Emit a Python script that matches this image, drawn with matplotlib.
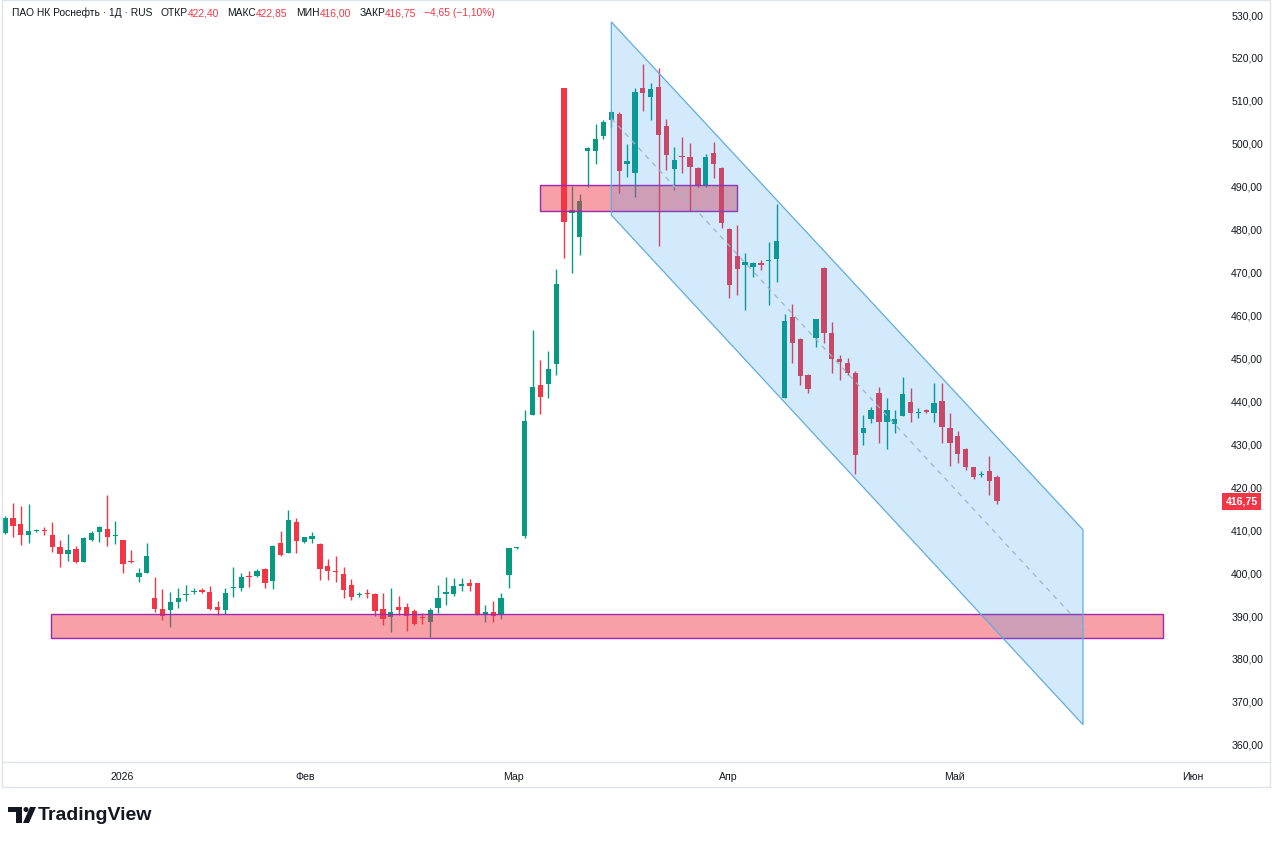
import matplotlib.pyplot as plt
import matplotlib.patches as mpatches
from matplotlib.lines import Line2D
import numpy as np

plt.rcParams['font.family'] = ['Liberation Sans', 'DejaVu Sans']

# daily OHLC, one value per trading session (index = candle number)
opens = [
    409.4, 412.8, 411.4, 408.9, 409.8, 410.0, 408.9, 406.0, 404.5, 405.6,
    402.5, 407.7, 409.5, 410.2, 408.7, 407.7, 402.9, 399.0, 400.1, 394.2,
    391.7, 391.4, 393.2, 395.0, 395.5, 395.9, 395.7, 392.2, 391.4, 396.6,
    396.5, 399.3, 399.4, 400.9, 398.2, 407.0, 404.8, 411.8, 407.2, 408.0,
    406.7, 401.7, 400.5, 399.8, 397.3, 394.8, 395.3, 395.2, 391.7, 389.7,
    392.2, 392.1, 391.2, 389.8, 388.7, 391.8, 395.2, 395.2, 396.9, 397.6,
    397.6, 390.5, 391.0, 390.3, 399.5, 405.8, 408.7, 436.8, 443.9, 444.1,
    448.8, 512.9, 484.0, 478.4, 498.3, 498.3, 501.9, 505.6, 507.0, 495.2,
    493.2, 512.9, 510.8, 513.3, 504.1, 494.1, 497.1, 496.9, 494.3, 490.2,
    497.8, 494.3, 480.2, 473.9, 471.8, 471.4, 472.2, 472.6, 473.1, 440.7,
    459.6, 454.5, 446.2, 454.7, 471.0, 455.9, 449.9, 448.9, 446.7, 432.6,
    435.8, 442.0, 435.1, 434.8, 436.5, 439.8, 437.3, 438.0, 437.2, 440.0,
    433.7, 432.0, 428.9, 424.7, 422.8, 423.8, 422.4]
closes = [
    412.9, 411.0, 408.9, 409.7, 410.0, 409.7, 406.0, 404.5, 405.4, 402.5,
    408.1, 409.4, 410.7, 408.4, 408.9, 402.1, 402.6, 400.1, 403.9, 391.7,
    390.1, 393.3, 394.2, 395.2, 395.8, 395.7, 391.7, 391.4, 395.3, 396.8,
    399.2, 399.1, 400.6, 397.6, 406.2, 404.2, 412.4, 407.4, 408.3, 408.7,
    400.9, 400.4, 400.3, 396.1, 394.4, 395.1, 395.1, 391.2, 389.2, 390.9,
    391.4, 389.9, 388.1, 389.5, 391.3, 394.2, 395.5, 397.0, 397.4, 396.9,
    390.4, 391.0, 389.9, 394.2, 405.8, 406.0, 435.5, 443.3, 441.1, 447.6,
    467.4, 481.7, 484.6, 486.7, 499.0, 501.2, 505.1, 507.4, 493.7, 496.0,
    512.0, 511.8, 512.8, 502.0, 497.4, 496.2, 496.9, 494.5, 490.2, 497.0,
    495.3, 481.5, 467.1, 470.8, 472.5, 472.2, 471.7, 472.9, 477.4, 458.8,
    453.5, 445.9, 442.8, 459.1, 456.0, 449.9, 449.1, 446.5, 427.5, 433.8,
    437.9, 435.1, 438.0, 435.9, 441.7, 437.2, 437.5, 437.5, 439.7, 434.0,
    430.4, 427.8, 424.7, 422.5, 422.9, 421.4, 416.75]
highs = [
    413.3, 416.4, 415.7, 416.1, 410.2, 410.7, 411.8, 407.6, 409.1, 406.2,
    408.5, 409.7, 411.0, 418.2, 412.2, 407.8, 405.4, 401.1, 407.1, 399.0,
    396.2, 395.5, 396.5, 397.2, 396.5, 396.5, 396.9, 393.4, 396.5, 401.4,
    400.1, 400.6, 401.0, 401.1, 406.6, 409.7, 414.7, 412.8, 408.5, 409.5,
    407.1, 403.3, 404.0, 401.4, 398.6, 395.5, 396.2, 395.3, 395.3, 396.5,
    394.7, 393.1, 391.6, 390.8, 391.8, 397.2, 399.2, 398.8, 398.8, 398.6,
    397.8, 392.6, 393.4, 395.3, 405.9, 406.1, 438.0, 456.7, 449.6, 451.7,
    470.9, 513.0, 490.2, 488.3, 499.2, 504.5, 505.5, 507.6, 507.5, 500.0,
    512.9, 518.6, 514.2, 517.6, 505.7, 499.2, 501.7, 500.1, 494.7, 497.6,
    500.5, 494.7, 480.3, 481.0, 474.6, 472.5, 473.0, 477.2, 486.0, 460.4,
    462.8, 454.7, 446.3, 459.3, 471.2, 458.6, 450.8, 450.0, 447.0, 436.9,
    438.8, 443.3, 440.7, 438.0, 445.6, 443.1, 438.4, 438.2, 444.4, 444.4,
    437.2, 433.2, 429.1, 424.8, 423.9, 427.3, 422.85]
lows = [
    409.0, 408.4, 406.6, 407.1, 409.6, 408.9, 405.0, 401.5, 402.9, 402.3,
    402.5, 407.5, 407.3, 406.4, 406.7, 400.1, 402.4, 397.9, 400.1, 391.0,
    389.0, 387.4, 391.8, 393.4, 395.2, 395.3, 391.4, 390.3, 390.4, 394.5,
    395.9, 396.7, 399.2, 396.5, 396.2, 403.9, 404.8, 404.8, 407.0, 407.0,
    398.4, 398.4, 398.0, 394.2, 393.7, 394.5, 394.3, 389.9, 387.9, 386.2,
    390.3, 386.6, 387.9, 388.2, 385.1, 390.6, 392.6, 394.7, 395.8, 395.8,
    390.3, 388.5, 388.5, 389.3, 396.5, 405.7, 408.1, 436.8, 437.0, 440.9,
    446.1, 473.4, 470.0, 474.2, 490.0, 495.4, 501.2, 504.0, 488.5, 492.3,
    487.5, 507.7, 505.5, 476.2, 493.9, 489.2, 493.1, 484.4, 490.0, 490.0,
    492.0, 480.3, 464.0, 464.8, 461.3, 468.9, 470.5, 462.5, 467.7, 440.7,
    448.9, 443.8, 441.9, 452.7, 453.7, 446.7, 445.0, 446.2, 423.1, 429.9,
    434.9, 430.4, 428.9, 432.7, 436.5, 435.1, 436.1, 437.2, 435.1, 430.2,
    425.0, 425.7, 424.0, 421.9, 422.5, 418.2, 416.0]

month_pos = [14.9, 38.1, 64.6, 91.9, 120.6, 150.9]
month_labels = ['2026', 'Фев', 'Мар', 'Апр', 'Май', 'Июн']
price_ticks = np.arange(360, 531, 10)
last_price = 416.75

# drawings: (x start, x end, price low, price high)
zone_top = (67.9, 93.0, 484.4, 490.4)
zone_bottom = (5.8, 147.0, 385.0, 390.4)
# channel corners: upper-left, upper-right, lower-right, lower-left
channel = [(77.0, 528.4), (136.9, 410.1), (136.9, 364.7), (77.0, 483.4)]

UP = '#089981'
DOWN = '#f23645'
DARK = '#131722'
W, H = 1280, 841


def fx(px):
    return px / W


def fy(py):
    return 1 - py / H


fig = plt.figure(figsize=(12.8, 8.41), dpi=100)
fig.patch.set_facecolor('white')
ax = fig.add_axes([fx(3), fy(762), fx(1217), 762 / H])

o = np.array(opens)
c = np.array(closes)
x = np.arange(len(o))
cols = np.where(c >= o, UP, DOWN)
body_lo = np.minimum(o, c)
body_h = np.maximum(np.abs(c - o), 0.25)

ax.vlines(x, lows, highs, colors=cols, linewidth=1.0, zorder=2)
ax.bar(x, body_h, bottom=body_lo, width=0.68, color=cols, linewidth=0, zorder=2)

# support / resistance zones
for x0, x1, p0, p1 in (zone_top, zone_bottom):
    ax.add_patch(mpatches.Rectangle((x0, p0), x1 - x0, p1 - p0,
                                    facecolor=DOWN, alpha=0.47, lw=0, zorder=3))
    ax.add_patch(mpatches.Rectangle((x0, p0), x1 - x0, p1 - p0,
                                    facecolor='none', edgecolor='#9c27b0',
                                    lw=1, zorder=3))

# descending channel
ax.add_patch(mpatches.Polygon(channel, closed=True, facecolor='#2196f3',
                              alpha=0.2, lw=0, zorder=4))
ax.add_patch(mpatches.Polygon(channel, closed=True, facecolor='none',
                              edgecolor='#62abe0', lw=0.9, zorder=4))
mid0 = (channel[0][1] + channel[3][1]) / 2
mid1 = (channel[1][1] + channel[2][1]) / 2
ax.plot([channel[0][0], channel[1][0]], [mid0, mid1], color='#9bb6cc',
        lw=0.9, ls=(0, (4, 4)), zorder=4)

ax.set_xlim(-0.25, 154.3)
ax.set_ylim(356.0, 533.5)
for s in ax.spines.values():
    s.set_visible(False)

ax.yaxis.tick_right()
ax.set_yticks(price_ticks)
ax.set_yticklabels([f'{v:.2f}'.replace('.', ',') for v in price_ticks])
ax.set_xticks(month_pos)
ax.set_xticklabels(month_labels)
ax.tick_params(axis='y', length=0, pad=8, labelsize=7.6, labelcolor=DARK)
ax.tick_params(axis='x', length=0, pad=7, labelsize=7.6, labelcolor=DARK)

ax.annotate(f'{last_price:.2f}'.replace('.', ','), xy=(1, last_price),
            xycoords=('axes fraction', 'data'), xytext=(4, 0),
            textcoords='offset points', ha='left', va='center',
            fontsize=7.6, color='white', fontweight='bold',
            bbox=dict(boxstyle='square,pad=0.32', fc=DOWN, ec='none'))

# chart frame
fig.add_artist(mpatches.Rectangle((fx(2), fy(787)), fx(1268), 787 / H,
                                  transform=fig.transFigure, fill=False,
                                  edgecolor='#e0e3eb', lw=1))
fig.add_artist(Line2D([fx(2), fx(1270)], [fy(762), fy(762)],
                      transform=fig.transFigure, color='#e0e3eb', lw=1))

# header legend
pieces = [('ПАО НК Роснефть · 1Д · RUS', DARK, 0), ('ОТКР', DARK, 6),
          ('422,40', DOWN, 0), ('МАКС', DARK, 6), ('422,85', DOWN, 0),
          ('МИН', DARK, 6), ('416,00', DOWN, 0), ('ЗАКР', DARK, 6),
          ('416,75', DOWN, 0), ('−4,65 (−1,10%)', DOWN, 5)]
prev = None
for i, (txt, col, gap) in enumerate(pieces):
    if i == 0:
        prev = fig.text(fx(12), fy(13), txt, color=col, fontsize=7.4,
                        va='center', ha='left')
    else:
        prev = fig.add_artist(plt.Annotation(
            txt, xy=(1, 0.5), xycoords=prev, xytext=(gap, 0),
            textcoords='offset points', color=col, fontsize=7.4,
            va='center', ha='left'))

# TradingView logo
logo = '#131722'
fig.add_artist(mpatches.Polygon(
    [(fx(8), fy(807)), (fx(22), fy(807)), (fx(22), fy(823)),
     (fx(16), fy(823)), (fx(16), fy(812)), (fx(8), fy(812))],
    closed=True, transform=fig.transFigure, fc=logo, ec='none'))
fig.add_artist(mpatches.Ellipse((fx(26), fy(809.5)), 5 / W, 5 / H,
                                transform=fig.transFigure, fc=logo, ec='none'))
fig.add_artist(mpatches.Polygon(
    [(fx(30), fy(807)), (fx(36), fy(807)), (fx(29), fy(823)),
     (fx(23), fy(823))],
    closed=True, transform=fig.transFigure, fc=logo, ec='none'))
fig.text(fx(38), fy(815), 'TradingView', fontsize=14, fontweight='bold',
         color=logo, va='center', ha='left')

fig.savefig('out.png', dpi=100, facecolor='white')
